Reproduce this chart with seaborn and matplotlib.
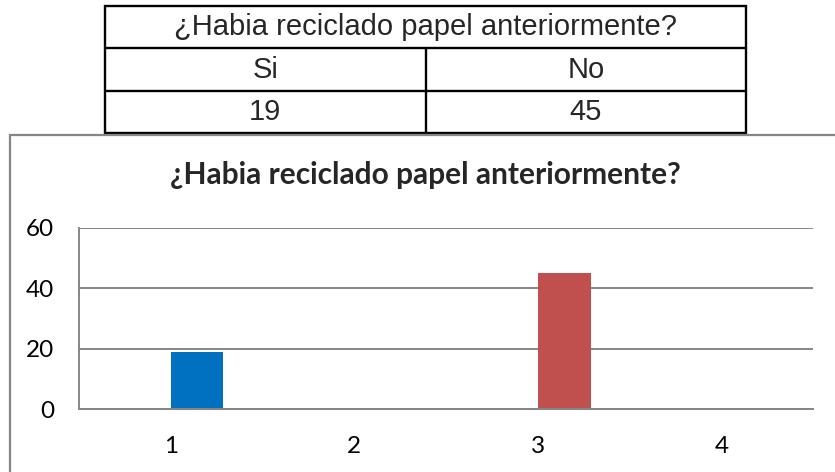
import numpy as np
import pandas as pd
import matplotlib
matplotlib.use("Agg")
import matplotlib.pyplot as plt
from matplotlib.patches import Rectangle
import seaborn as sns

# ── data ───────────────────────────────────────────────────────────────
titulo = "¿Habia reciclado papel anteriormente?"
respuestas = ["Si", "No"]
conteos = [19, 45]
categorias = ["1", "2", "3", "4"]
# Excel plotted two rows: the text row (empty series) and the counts row
series = ["Serie1", "Serie2"]
valores = [19, np.nan, 45, np.nan]
colores = {"1": "#0070C0", "2": "#9BBB59", "3": "#C0504D", "4": "#8064A2"}
yticks = [0, 20, 40, 60]

# ── style ──────────────────────────────────────────────────────────────
sns.set_theme(style="white")
plt.rcParams["font.family"] = ["Lato", "DejaVu Sans"]
GRIS = "#868686"

W, H = 835, 472
fig = plt.figure(figsize=(W / 100, H / 100), dpi=100)


def fx(px):
    return px / W


def fy(py):
    return 1 - py / H


# chart frame (runs off the right / bottom edge like the screenshot)
fig.patches.append(Rectangle((fx(9.5), fy(520)), fx(900) - fx(9.5), fy(134.5) - fy(520),
                             transform=fig.transFigure, fill=False, ec=GRIS, lw=1.6))

# ── table on top ───────────────────────────────────────────────────────
tab = fig.add_axes([fx(105), fy(133), fx(746) - fx(105), (133 - 6) / H])
tab.set_xlim(0, 2)
tab.set_ylim(0, 3)
tab.axis("off")
tab.add_patch(Rectangle((0, 0), 2, 3, fill=False, ec="black", lw=1.7, clip_on=False))
tab.axhline(1, color="black", lw=1.7)
tab.axhline(2, color="black", lw=1.7)
tab.plot([1, 1], [0, 2], color="black", lw=1.7)
tfont = dict(family=["Liberation Sans Narrow", "Liberation Sans", "DejaVu Sans"], fontsize=21,
             ha="center", va="center")
tab.text(1, 2.5, titulo, **tfont)
for i, (r, c) in enumerate(zip(respuestas, conteos)):
    tab.text(i + 0.5, 1.5, r, **tfont)
    tab.text(i + 0.5, 0.5, str(c), **tfont)

# ── bar chart ──────────────────────────────────────────────────────────
df = pd.DataFrame({"cat": categorias, "valor": valores, "serie": series[1]}).dropna()

ax = fig.add_axes([fx(79), fy(409.3), fx(813.3) - fx(79), (409.3 - 227.7) / H])
sns.barplot(data=df, x="cat", y="valor", order=categorias, hue="serie", hue_order=series,
            dodge=True, width=0.574, saturation=1, legend=False, ax=ax)
# per-point colours, as in the original
for p in ax.patches:
    idx = int(round(p.get_x()))
    p.set_facecolor(colores[categorias[idx]])
    p.set_edgecolor("none")

ax.set_ylim(0, 60)
ax.set_yticks(yticks)
ax.set_axisbelow(True)
ax.yaxis.grid(True, color=GRIS, lw=1.4)
ax.set_xlabel("")
ax.set_ylabel("")
for s in ["top", "right"]:
    ax.spines[s].set_visible(False)
for s in ["left", "bottom"]:
    ax.spines[s].set_color(GRIS)
    ax.spines[s].set_linewidth(1.4)
ax.tick_params(axis="both", length=0, labelsize=17.5, labelcolor="black")
ax.tick_params(axis="y", pad=18)
ax.tick_params(axis="x", pad=19)

fig.text(fx(425), fy(175), titulo, ha="center", va="center", fontsize=21.5, fontweight="bold")

fig.savefig("out.png", dpi=100)
